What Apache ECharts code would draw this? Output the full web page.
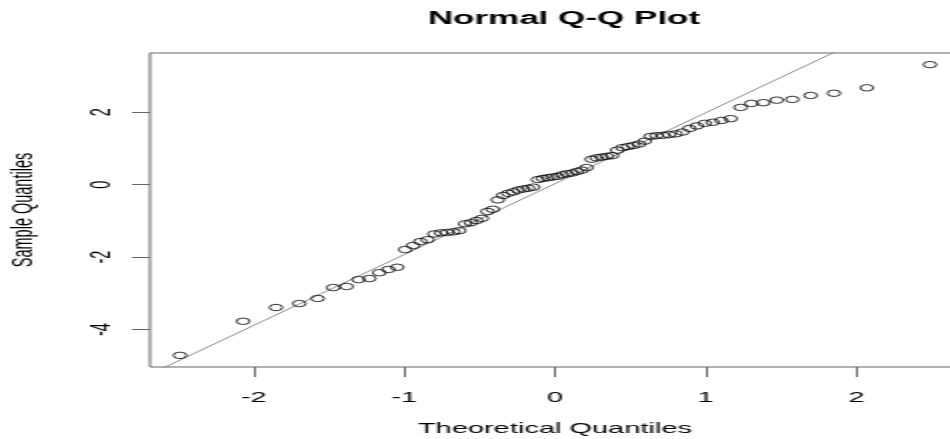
<!DOCTYPE html>
<html><head><meta charset="utf-8">
<script src="https://cdn.jsdelivr.net/npm/echarts@6/dist/echarts.min.js"></script>
<style>
html,body{margin:0;padding:0;background:#fff;overflow:hidden}
#wrap{width:950px;height:439px;overflow:hidden;position:relative;background:#fff}
#c{width:475px;height:439px;transform:scaleX(2);transform-origin:0 0}
</style></head>
<body><div id="wrap"><div id="c"></div></div>
<script>
// Theoretical normal quantiles (x), n = 78
const theoreticalQuantiles = [
 -2.489,-2.070,-1.852,-1.697,-1.575,-1.472,-1.383,-1.304,-1.232,-1.166,
 -1.105,-1.047,-0.994,-0.942,-0.893,-0.846,-0.801,-0.757,-0.716,-0.674,
 -0.635,-0.596,-0.558,-0.521,-0.485,-0.448,-0.413,-0.379,-0.344,-0.310,
 -0.277,-0.244,-0.210,-0.178,-0.145,-0.113,-0.080,-0.048,-0.016,
  0.016, 0.048, 0.080, 0.113, 0.145, 0.178, 0.210, 0.244, 0.277, 0.310,
  0.344, 0.379, 0.413, 0.448, 0.485, 0.521, 0.558, 0.596, 0.635, 0.674,
  0.716, 0.757, 0.801, 0.846, 0.893, 0.942, 0.994, 1.047, 1.105, 1.166,
  1.232, 1.304, 1.383, 1.472, 1.575, 1.697, 1.852, 2.070, 2.489
];
// Sample quantiles (y), sorted
const sampleQuantiles = [
 -4.71,-3.77,-3.39,-3.28,-3.14,-2.84,-2.81,-2.62,-2.59,-2.43,
 -2.34,-2.28,-1.79,-1.68,-1.57,-1.52,-1.36,-1.33,-1.32,-1.30,
 -1.27,-1.08,-1.05,-0.99,-0.93,-0.74,-0.68,-0.42,-0.30,-0.24,
 -0.20,-0.15,-0.12,-0.10,-0.07, 0.14, 0.17, 0.19, 0.21,
  0.23, 0.27, 0.30, 0.32, 0.36, 0.40, 0.47, 0.70, 0.74, 0.76,
  0.78, 0.80, 0.95, 1.02, 1.05, 1.08, 1.12, 1.20, 1.33, 1.35,
  1.36, 1.38, 1.40, 1.45, 1.55, 1.62, 1.69, 1.72, 1.77, 1.82,
  2.13, 2.24, 2.26, 2.33, 2.35, 2.46, 2.52, 2.67, 3.31
];
const xTickValues = [-2, -1, 0, 1, 2];
const yTickValues = [-4, -2, 0, 2];
const titleText = 'Normal Q-Q Plot';
const xAxisTitle = 'Theoretical Quantiles';
const yAxisTitle = 'Sample Quantiles';

// R-style axis ranges (data range extended by 4%)
function ext(a){ const lo=Math.min(...a), hi=Math.max(...a), d=(hi-lo)*0.04; return [lo-d, hi+d]; }
const xr = ext(theoreticalQuantiles), yr = ext(sampleQuantiles);

// qqline: line through the first and third quartiles
function q7(sorted, p){ const h=(sorted.length-1)*p, lo=Math.floor(h); return sorted[lo]+(h-lo)*(sorted[Math.min(lo+1,sorted.length-1)]-sorted[lo]); }
const srt = sampleQuantiles.slice().sort((a,b)=>a-b);
const z25 = -0.6744898, z75 = 0.6744898;
const slope = (q7(srt,0.75)-q7(srt,0.25))/(z75-z25);
const intercept = q7(srt,0.25) - slope*z25;
const lineData = [[xr[0], intercept+slope*xr[0]], [xr[1], intercept+slope*xr[1]]];

const font = 'Liberation Sans, Arial, Helvetica, sans-serif';
const chart = echarts.init(document.getElementById('c'));
chart.setOption({
  animation: false,
  backgroundColor: '#fff',
  title: {
    text: titleText, left: 277, top: 5, textAlign: 'center',
    textStyle: { fontFamily: font, fontSize: 17.5, fontWeight: 'bold', color: '#000' }
  },
  grid: { left: 75, right: -5, top: 53, bottom: 72, show: true, borderColor: '#666', borderWidth: 1,
          containLabel: false, outerBoundsMode: 'none' },
  xAxis: {
    type: 'value', min: xr[0], max: xr[1],
    axisLine: { show: false, onZero: false },
    axisTick: { show: true, length: 10, customValues: xTickValues, lineStyle: { color: '#666' } },
    axisLabel: { customValues: xTickValues, margin: 23, fontFamily: font, fontSize: 14.5, color: '#000' },
    splitLine: { show: false },
    name: xAxisTitle, nameLocation: 'middle', nameGap: 54,
    nameTextStyle: { fontFamily: font, fontSize: 14.5, color: '#000' }
  },
  yAxis: {
    type: 'value', min: yr[0], max: yr[1],
    axisLine: { show: false, onZero: false },
    axisTick: { show: true, length: 9, customValues: yTickValues, lineStyle: { color: '#666' } },
    axisLabel: { customValues: yTickValues, rotate: 90, margin: 17, fontFamily: font, fontSize: 14.5, color: '#000' },
    splitLine: { show: false },
    name: yAxisTitle, nameLocation: 'middle', nameGap: 56, nameRotate: 90,
    nameTextStyle: { fontFamily: font, fontSize: 14.5, color: '#000' }
  },
  series: [
    {
      type: 'line', data: lineData, symbol: 'none', clip: true, silent: true,
      lineStyle: { color: '#888', width: 1 }, z: 1
    },
    {
      type: 'scatter', data: theoreticalQuantiles.map((x,i)=>[x, sampleQuantiles[i]]),
      symbol: 'circle', symbolSize: 6.5, clip: false,
      itemStyle: { color: 'rgba(255,255,255,0)', borderColor: '#000', borderWidth: 0.8, opacity: 1 }, z: 2
    }
  ]
});
</script>
</body></html>
